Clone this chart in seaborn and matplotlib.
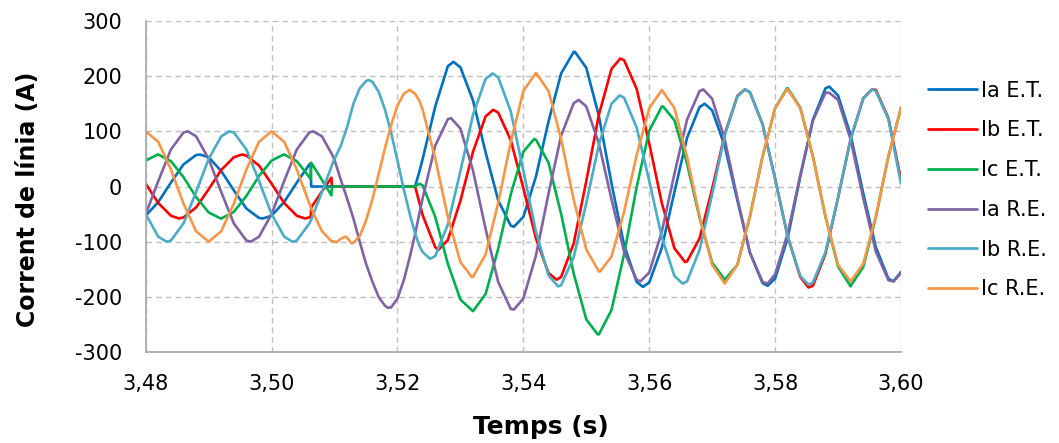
import matplotlib
matplotlib.use('Agg')
import matplotlib.pyplot as plt
import seaborn as sns
import pandas as pd

# time axis (s) - denser around the fault / reclosing
time_s = [
    3.480, 3.482, 3.484, 3.486, 3.488, 3.490, 3.492, 3.494, 3.496, 3.498, 3.500, 3.502, 3.504,
    3.506, 3.5062, 3.5063, 3.508, 3.5095, 3.5096,
    3.510, 3.511, 3.512, 3.513, 3.514, 3.515, 3.516, 3.517, 3.518, 3.519, 3.520, 3.521, 3.522,
    3.5228, 3.5235,
    3.524, 3.526, 3.528, 3.530, 3.532, 3.534, 3.536, 3.538, 3.540, 3.542, 3.544, 3.546, 3.548,
    3.550, 3.552, 3.554, 3.556, 3.558, 3.560, 3.562, 3.564, 3.566, 3.568, 3.570, 3.572, 3.574,
    3.576, 3.578, 3.580, 3.582, 3.584, 3.586, 3.588, 3.590, 3.592, 3.594, 3.596, 3.598, 3.600,
]

# line currents (A) sampled on time_s
ia_et = [
    -53, -28, 7, 40, 57, 53, 28, -7, -40, -57, -53, -28, 7,
    40, 42, 0, 0, 0, 0,
    0, 0, 0, 0, 0, 0, 0, 0, 0, 0, 0, 0, 0,
    0, 28,
    50, 145, 218, 216, 156, 62, -25, -71, -55, 18, 118, 205, 244,
    215, 128, 6, -106, -173, -174, -111, -10, 88, 144, 138, 73, -25,
    -120, -175, -167, -93, 18, 121, 178, 165, 93, -12, -110, -167, -155,
]
ib_et = [
    5, -30, -53, -56, -38, -5, 30, 53, 56, 38, 5, -30, -53,
    -56, -56, -38, -9, 16, 0,
    0, 0, 0, 0, 0, 0, 0, 0, 0, 0, 0, 0, 0,
    0, -30,
    -52, -110, -97, -26, 63, 127, 134, 84, -3, -94, -157, -164, -103,
    10, 130, 213, 229, 177, 78, -30, -112, -136, -94, -4, 95, 164,
    171, 113, 14, -91, -164, -180, -122, -20, 86, 160, 175, 124, 12,
]
ic_et = [
    47, 58, 46, 17, -19, -47, -58, -46, -17, 19, 47, 58, 46,
    17, 13, 43, 12, -16, 0,
    0, 0, 0, 0, 0, 0, 0, 0, 0, 0, 0, 0, 0,
    0, 5,
    2, -55, -140, -205, -226, -195, -113, -14, 63, 85, 43, -50, -158,
    -241, -268, -224, -123, -1, 101, 145, 120, 42, -57, -138, -169, -142,
    -54, 54, 142, 178, 143, 55, -55, -145, -180, -146, -56, 55, 143,
]
ia_re = [
    -50, 10, 67, 98, 91, 50, -10, -67, -98, -91, -50, 10, 67,
    98, 99, 99, 91, 60, 58,
    48, 12, -22, -58, -100, -140, -172, -200, -216, -219, -203, -170, -126,
    -86, -48,
    -21, 74, 122, 105, 29, -77, -173, -222, -203, -125, -13, 92, 151,
    145, 78, -23, -118, -169, -156, -82, 23, 121, 173, 159, 85, -21,
    -120, -173, -159, -85, 21, 119, 170, 157, 85, -21, -118, -170, -157,
]
ib_re = [
    -50, -91, -98, -67, -10, 50, 91, 98, 67, 10, -50, -91, -98,
    -67, -62, -60, -10, 36, 39,
    50, 74, 108, 150, 178, 191, 190, 172, 140, 97, 47, -5, -52,
    -85, -108,
    -119, -126, -69, 28, 130, 195, 198, 136, 29, -82, -161, -179, -128,
    -30, 76, 150, 161, 107, 10, -92, -162, -172, -115, -14, 93, 163,
    171, 113, 14, -91, -162, -174, -119, -20, 86, 159, 173, 122, 5,
]
ic_re = [
    100, 81, 31, -31, -81, -100, -81, -31, 31, 81, 100, 81, 31,
    -31, -37, -40, -81, -99, -99,
    -100, -95, -93, -102, -90, -62, -24, 22, 69, 112, 147, 168, 175,
    168, 155,
    139, 51, -55, -137, -164, -123, -30, 81, 173, 206, 173, 86, -24,
    -114, -154, -127, -46, 57, 142, 175, 142, 54, -54, -142, -176, -142,
    -54, 54, 142, 176, 142, 54, -54, -142, -172, -140, -54, 54, 142,
]

# peaks / troughs (time, value)
ia_et_ext_t = [3.4886, 3.4986, 3.5289, 3.5385, 3.5482, 3.5590, 3.5688, 3.5788, 3.5886, 3.5988]
ia_et_ext_v = [58, -58, 226, -73, 244, -182, 150, -180, 181, -172]
ib_et_ext_t = [3.4853, 3.4953, 3.5053, 3.5265, 3.5352, 3.5453, 3.5554, 3.5657, 3.5752, 3.5853, 3.5954]
ib_et_ext_v = [-58, 58, -58, -115, 139, -169, 232, -137, 176, -183, 176]
ic_et_ext_t = [3.4819, 3.4919, 3.5019, 3.5320, 3.5417, 3.5518, 3.5622, 3.5720, 3.5819, 3.5920]
ic_et_ext_v = [58, -58, 58, -226, 86, -268, 145, -169, 178, -181]
ia_re_ext_t = [3.4867, 3.4967, 3.5066, 3.5185, 3.5285, 3.5385, 3.5488, 3.5586, 3.5686, 3.5788, 3.5886, 3.5988]
ia_re_ext_v = [100, -100, 100, -220, 124, -223, 157, -172, 176, -176, 170, -172]
ib_re_ext_t = [3.4833, 3.4933, 3.5033, 3.5154, 3.5252, 3.5351, 3.5455, 3.5553, 3.5653, 3.5752, 3.5853, 3.5954]
ib_re_ext_v = [-100, 100, -100, 193, -131, 205, -181, 165, -176, 176, -178, 176]
ic_re_ext_t = [3.5103, 3.5117, 3.5127, 3.5219, 3.5318, 3.5420, 3.5522, 3.5620, 3.5720, 3.5819, 3.5920]
ic_re_ext_v = [-101, -91, -103, 175, -164, 206, -154, 175, -176, 176, -172]

series_names = ['Ia E.T.', 'Ib E.T.', 'Ic E.T.', 'Ia R.E.', 'Ib R.E.', 'Ic R.E.']
series_colors = ['#0070C0', '#FF0000', '#00B050', '#8064A2', '#4BACC6', '#F79646']

x_ticks = [3.48, 3.50, 3.52, 3.54, 3.56, 3.58, 3.60]
x_tick_labels = ['3,48', '3,50', '3,52', '3,54', '3,56', '3,58', '3,60']
y_ticks = [-300, -200, -100, 0, 100, 200, 300]

# long format table
series_data = [
    (ia_et, ia_et_ext_t, ia_et_ext_v),
    (ib_et, ib_et_ext_t, ib_et_ext_v),
    (ic_et, ic_et_ext_t, ic_et_ext_v),
    (ia_re, ia_re_ext_t, ia_re_ext_v),
    (ib_re, ib_re_ext_t, ib_re_ext_v),
    (ic_re, ic_re_ext_t, ic_re_ext_v),
]
rows = []
for name, (vals, ext_t, ext_v) in zip(series_names, series_data):
    assert len(vals) == len(time_s), name
    for t, v in list(zip(time_s, vals)) + list(zip(ext_t, ext_v)):
        rows.append({'t': t, 'I': v, 'serie': name})
df = pd.DataFrame(rows)

sns.set_style('white')
plt.rcParams['font.family'] = ['DejaVu Sans']
plt.rcParams['axes.unicode_minus'] = False
plt.rcParams['text.color'] = 'black'
plt.rcParams['axes.labelcolor'] = 'black'

fig = plt.figure(figsize=(10.59, 4.43), dpi=100)
ax = fig.add_axes([0.1376, 0.2054, 0.7132, 0.7472])

sns.lineplot(data=df, x='t', y='I', hue='serie', hue_order=series_names,
             palette=dict(zip(series_names, series_colors)),
             estimator=None, errorbar=None, sort=True, linewidth=1.9,
             legend=False, ax=ax)

ax.set_xlim(3.48, 3.60)
ax.set_ylim(-300, 300)
ax.set_xticks(x_ticks)
ax.set_xticklabels(x_tick_labels)
ax.set_yticks(y_ticks)

ax.grid(True, linestyle=(0, (4, 3)), color='#BFBFBF', linewidth=1)
ax.set_axisbelow(True)
for side in ['top', 'right']:
    ax.spines[side].set_visible(False)
for side in ['left', 'bottom']:
    ax.spines[side].set_color('#A6A6A6')
    ax.spines[side].set_linewidth(1.2)
ax.tick_params(axis='both', direction='out', length=6, width=1, color='#A6A6A6',
               labelsize=15, labelcolor='black')
ax.tick_params(axis='y', pad=11)
ax.tick_params(axis='x', pad=10)

ax.set_xlabel('Temps (s)', fontsize=18, fontweight='bold')
ax.xaxis.set_label_coords((541 - 145.7) / 755.3, (352 - 427) / 331)
ax.xaxis.label.set_verticalalignment('center')
ax.set_ylabel('Corrent de línia (A)', fontsize=17, fontweight='bold')
ax.yaxis.set_label_coords((28 - 145.7) / 755.3, (352 - 199) / 331)
ax.yaxis.label.set_verticalalignment('center')

leg = fig.legend(handles=ax.lines[:6], labels=series_names, loc='center left',
                 bbox_to_anchor=(928 / 1059, 1 - 190 / 443), frameon=False,
                 fontsize=15, handlelength=2.35, handletextpad=0.2,
                 labelspacing=0.95, borderpad=0, borderaxespad=0)
for h in leg.get_lines():
    h.set_linewidth(2)
for txt in leg.get_texts():
    txt.set_color('black')

plt.savefig('out.png', dpi=100)
plt.close()
